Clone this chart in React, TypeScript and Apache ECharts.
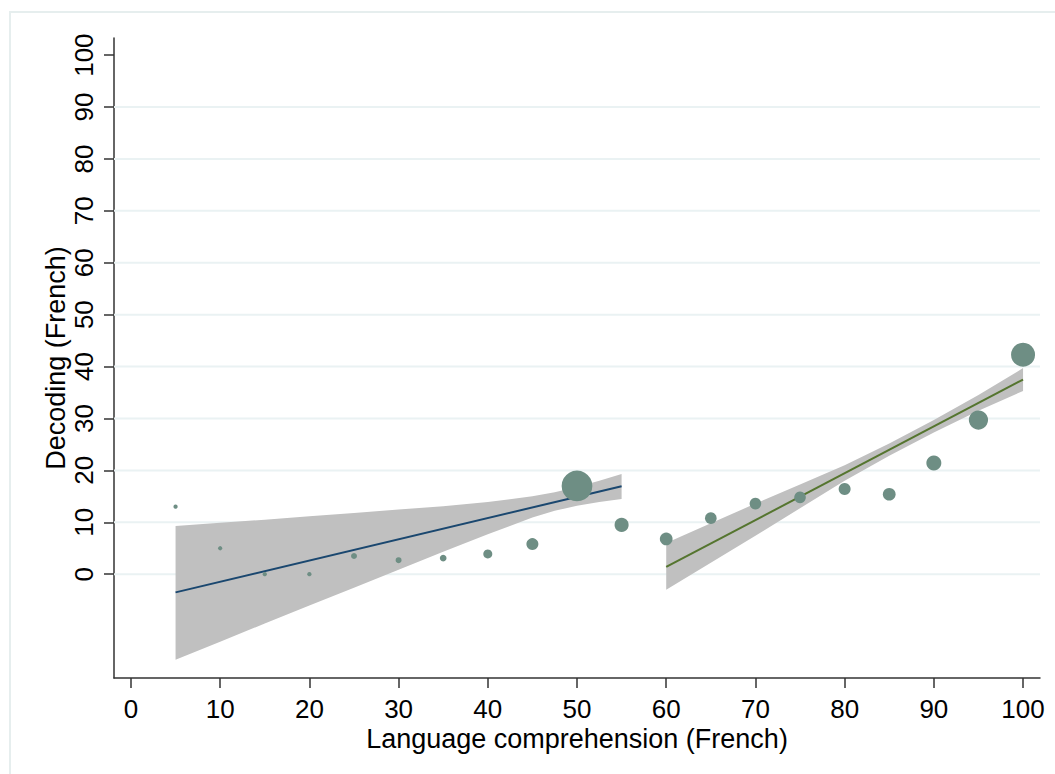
import React, { useEffect, useRef } from "react";
import * as echarts from "echarts";

// Scatter: decoding score by language comprehension (French), marker area ~ frequency
const comprehension = [5, 10, 15, 20, 25, 30, 35, 40, 45, 50, 55, 60, 65, 70, 75, 80, 85, 90, 95, 100];
const decoding = [13.0, 5.0, 0.0, 0.0, 3.5, 2.7, 3.1, 3.9, 5.8, 17.0, 9.5, 6.8, 10.8, 13.6, 14.8, 16.4, 15.4, 21.4, 29.7, 42.3];
const frequency = [2, 2, 2, 2, 4, 4, 5, 9, 16, 105, 22, 18, 15, 15, 15, 16, 18, 25, 41, 64];

// Linear fits
const fitLowX = [5, 55];
const fitLowY = [-3.5, 16.95];
const fitHighX = [60, 100];
const fitHighY = [1.4, 37.5];

// Confidence bands
const bandLowX = [5, 10, 15, 20, 25, 30, 35, 40, 45, 47.5, 50, 52.5, 55];
const bandLowUpper = [9.3, 9.9, 10.5, 11.15, 11.8, 12.45, 13.1, 13.9, 15.0, 15.8, 16.8, 18.0, 19.3];
const bandLowLower = [-16.5, -13.0, -9.5, -6.05, -2.6, 0.85, 4.3, 7.7, 10.9, 12.2, 13.2, 13.9, 14.5];
const bandHighX = [60, 65, 70, 75, 80, 85, 90, 95, 100];
const bandHighUpper = [6.0, 9.8, 13.6, 17.3, 21.0, 25.2, 29.7, 34.5, 39.7];
const bandHighLower = [-3.0, 2.2, 7.4, 12.7, 18.0, 22.8, 27.3, 31.5, 35.3];

// Axis ticks
const xTicks = [0, 10, 20, 30, 40, 50, 60, 70, 80, 90, 100];
const yTicks = [0, 10, 20, 30, 40, 50, 60, 70, 80, 90, 100];
const gridValues = [0, 10, 20, 30, 40, 50, 60, 70, 80, 90];

export default function App() {
  const ref = useRef<HTMLDivElement>(null);

  useEffect(() => {
    if (!ref.current) return;
    const chart = echarts.init(ref.current, null, { renderer: "svg" });
    const font = '"Liberation Sans", Arial, Helvetica, sans-serif';
    const axisColor = "#333333";

    const bandSeries = (xs: number[], up: number[], lo: number[]) => ({
      type: "custom",
      z: 2,
      silent: true,
      clip: true,
      data: xs.map((x, i) => [x, lo[i], up[i]]),
      encode: { x: 0, y: [1, 2] },
      renderItem: (params: any, api: any) => {
        if (params.dataIndex !== 0) return null;
        const pts: number[][] = [];
        for (let i = 0; i < xs.length; i++) pts.push(api.coord([xs[i], up[i]]));
        for (let i = xs.length - 1; i >= 0; i--) pts.push(api.coord([xs[i], lo[i]]));
        return {
          type: "polygon",
          shape: { points: pts },
          style: { fill: "#c0c0c0", stroke: "none" },
        };
      },
    });

    const option: any = {
      animation: false,
      backgroundColor: "#ffffff",
      textStyle: { fontFamily: font },
      graphic: [
        {
          type: "rect",
          silent: true,
          z: -10,
          shape: { x: 10, y: 12, width: 1100, height: 800 },
          style: { fill: "none", stroke: "#e6eeee", lineWidth: 2 },
        },
      ],
      grid: { left: 114, right: 15, top: 38, bottom: 96, containLabel: false },
      xAxis: {
        type: "value",
        min: -1.9,
        max: 101.9,
        name: "Language comprehension (French)",
        nameLocation: "middle",
        nameGap: 47,
        nameMoveOverlap: false,
        nameTextStyle: { fontSize: 27, color: "#000", fontFamily: font },
        axisLine: { show: true, onZero: false, lineStyle: { color: axisColor, width: 1.5 } },
        axisTick: { show: true, length: 10, lineStyle: { color: axisColor, width: 1.5 }, customValues: xTicks },
        axisLabel: { fontSize: 26, color: "#000", margin: 18, fontFamily: font, customValues: xTicks },
        splitLine: { show: false },
      },
      yAxis: {
        type: "value",
        min: -20,
        max: 103.3,
        name: "Decoding (French)",
        nameLocation: "middle",
        nameRotate: 90,
        nameGap: 45,
        nameMoveOverlap: false,
        nameTextStyle: { fontSize: 27, color: "#000", fontFamily: font },
        axisLine: { show: true, onZero: false, lineStyle: { color: axisColor, width: 1.5 } },
        axisTick: { show: true, length: 10, lineStyle: { color: axisColor, width: 1.5 }, customValues: yTicks },
        axisLabel: { fontSize: 26, color: "#000", rotate: 90, margin: 17, fontFamily: font, customValues: yTicks },
        splitLine: { show: false },
      },
      series: [
        {
          type: "custom",
          z: 1,
          silent: true,
          data: gridValues.map((v) => [0, v]),
          encode: { x: 0, y: 1 },
          renderItem: (params: any, api: any) => {
            const cs = params.coordSys;
            const y = api.coord([0, api.value(1)])[1];
            return {
              type: "line",
              shape: { x1: cs.x, y1: y, x2: cs.x + cs.width, y2: y },
              style: { stroke: "#eaf2f3", lineWidth: 2 },
            };
          },
        },
        bandSeries(bandLowX, bandLowUpper, bandLowLower),
        bandSeries(bandHighX, bandHighUpper, bandHighLower),
        {
          type: "line",
          z: 3,
          silent: true,
          symbol: "none",
          data: fitLowX.map((x, i) => [x, fitLowY[i]]),
          lineStyle: { color: "#1a476f", width: 2 },
        },
        {
          type: "line",
          z: 3,
          silent: true,
          symbol: "none",
          data: fitHighX.map((x, i) => [x, fitHighY[i]]),
          lineStyle: { color: "#55752f", width: 2 },
        },
        {
          type: "scatter",
          z: 4,
          silent: true,
          symbol: "circle",
          data: comprehension.map((x, i) => [x, decoding[i], frequency[i]]),
          symbolSize: (val: number[]) => 3 * Math.sqrt(val[2]),
          itemStyle: { color: "#6e8e84", opacity: 1 },
        },
      ],
    };

    chart.setOption(option);
    return () => chart.dispose();
  }, []);

  return (
    <div
      ref={ref}
      style={{ position: "fixed", left: 0, top: 0, width: 1055, height: 774, background: "#fff" }}
    />
  );
}
